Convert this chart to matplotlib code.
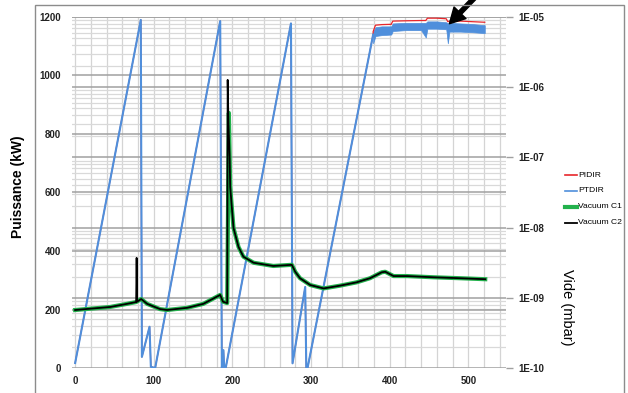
import matplotlib.pyplot as plt
import matplotlib.patches as patches
from matplotlib.lines import Line2D
import numpy as np

plt.rcParams['font.family'] = ['Liberation Sans', 'DejaVu Sans']

# puissance (kW) - rampes
t_pow = [0, 83.5, 84.9, 94.6, 96.3, 101.8, 184.5, 186.6, 188.6, 189.6, 191.5,
         274.5, 276.5, 292.6, 294, 295.6, 375, 379]
ptdir = [17, 1190, 38, 141, 4, 0, 1186, 0, 61, 0, 0,
         1178, 16, 277, 0, 0, 1084, 1140]

# plateau (bande bruitee PTDIR, PIDIR au dessus)
t_plat = [379, 382, 390, 402, 404, 420, 440, 446, 448, 460, 472, 474, 476, 490, 505, 521]
ptdir_lo = [1110, 1135, 1138, 1140, 1152, 1155, 1155, 1130, 1160, 1160, 1158, 1110, 1150, 1150, 1148, 1145]
ptdir_hi = [1150, 1165, 1168, 1168, 1178, 1180, 1180, 1180, 1185, 1185, 1182, 1178, 1180, 1178, 1176, 1172]
pidir_plat = [1150, 1172, 1174, 1175, 1186, 1187, 1188, 1188, 1196, 1196, 1194, 1184, 1186, 1186, 1184, 1182]

# vide (mbar)
t_vac1 = [0, 44.5, 66, 77.6, 84, 91.6, 108, 117, 142.5, 163, 184.5, 188, 193.4,
          195.5, 197.2, 201.4, 207.8, 214, 226.9, 252, 271.4, 275.6, 280, 286,
          299, 316, 337, 358, 375, 390, 394.4, 405, 422, 456, 490, 521.6]
vac1 = [6.7e-10, 7.4e-10, 8.2e-10, 8.7e-10, 9.6e-10, 8.2e-10, 6.9e-10, 6.7e-10,
        7.2e-10, 8.2e-10, 1.1e-9, 8.8e-10, 8.4e-10,
        4.3e-7, 3.8e-8, 9.9e-9, 5.3e-9, 3.85e-9, 3.16e-9, 2.84e-9, 2.93e-9, 2.95e-9,
        2.34e-9, 1.9e-9, 1.52e-9, 1.36e-9, 1.49e-9, 1.66e-9, 1.9e-9, 2.31e-9,
        2.35e-9, 2.04e-9, 2.04e-9, 1.96e-9, 1.9e-9, 1.84e-9]
t_vac2 = [0, 44.5, 66, 77.6, 78.2, 78.8, 84, 91.6, 108, 117, 142.5, 163, 184.5,
          188, 193.4, 194, 195, 196.5, 197.2, 201.4, 207.8, 214, 226.9, 252, 271.4,
          275.6, 280, 286, 299, 316, 337, 358, 375, 390, 394.4, 405, 422, 456, 490, 521.6]
vac2 = [6.7e-10, 7.4e-10, 8.2e-10, 8.7e-10, 3.7e-9, 8.8e-10, 9.6e-10, 8.2e-10,
        6.9e-10, 6.7e-10, 7.2e-10, 8.2e-10, 1.1e-9, 8.8e-10, 8.4e-10,
        1.27e-6, 3.0e-7, 1.0e-7, 3.8e-8, 9.9e-9, 5.3e-9, 3.85e-9, 3.16e-9, 2.84e-9,
        2.93e-9, 2.95e-9, 2.34e-9, 1.9e-9, 1.52e-9, 1.36e-9, 1.49e-9, 1.66e-9,
        1.9e-9, 2.31e-9, 2.35e-9, 2.04e-9, 2.04e-9, 1.96e-9, 1.9e-9, 1.84e-9]

c_red = '#e8262b'
c_blue = '#4f8fdc'
c_green = '#22b14c'

fig = plt.figure(figsize=(6.28, 3.93), dpi=100)
ax = fig.add_axes([72 / 628, 25 / 393, 434 / 628, 351 / 393])
ax2 = ax.twinx()

# cadre exterieur
fig.add_artist(patches.Rectangle((35 / 628, -0.05), 589 / 628, 1 - 5 / 393 + 0.05,
                                 transform=fig.transFigure, fill=False,
                                 edgecolor='#8c8c8c', lw=1, clip_on=False))

ax.set_xlim(-4, 548)
ax.set_ylim(0, 1200)
ax2.set_yscale('log')
ax2.set_ylim(1e-10, 1e-5)

# grille
for x in range(0, 541, 20):
    ax.axvline(x, color='#d4d4d4', lw=0.9, zorder=0)
for dec in range(-10, -5):
    for k in range(2, 10):
        yv = 1200 * (np.log10(k * 10.0 ** dec) + 10) / 5
        ax.axhline(yv, color='#d9d9d9', lw=0.9, zorder=0)
    ax.axhline(1200 * (dec + 10 + 1) / 5, color='#a0a0a0', lw=1.1, zorder=0)
for yv in range(0, 1201, 200):
    ax.axhline(yv, color='#a0a0a0', lw=1.1, zorder=0)

ax.plot(t_pow + t_plat, ptdir + pidir_plat, color=c_red, lw=0.9, label='PIDIR')
ax.plot(t_pow, ptdir, color=c_blue, lw=1.5, label='PTDIR')
ax.fill_between(t_plat, ptdir_lo, ptdir_hi, color=c_blue, lw=0.5)

ax2.plot(t_vac1, vac1, color=c_green, lw=3, label='Vacuum C1')
ax2.plot(t_vac2, vac2, color='black', lw=1.3, label='Vacuum C2')

for s in list(ax.spines.values()) + list(ax2.spines.values()):
    s.set_visible(False)

ax.set_xticks(range(0, 501, 100))
ax.set_yticks(range(0, 1201, 200))
ax.tick_params(axis='both', length=0, labelsize=7, colors='#222222', pad=6)
ax.tick_params(axis='y', pad=8)
for lab in ax.get_xticklabels() + ax.get_yticklabels():
    lab.set_fontweight('bold')

dec_ticks = [1e-10, 1e-9, 1e-8, 1e-7, 1e-6, 1e-5]
ax2.set_yticks(dec_ticks)
ax2.set_yticklabels(['1E-10', '1E-09', '1E-08', '1E-07', '1E-06', '1E-05'],
                    fontweight='bold')
ax2.yaxis.set_minor_locator(plt.NullLocator())
ax2.tick_params(axis='y', length=5, width=1, color='#a0a0a0', labelsize=7,
                labelcolor='#222222', pad=4)

fig.text(18.5 / 628, 1 - 186.5 / 393, 'Puissance (kW)', rotation=90, ha='center',
         va='center', fontsize=10, fontweight='bold')
fig.text(567 / 628, 1 - 307 / 393, 'Vide (mbar)', rotation=-90, ha='center',
         va='center', fontsize=10.5)

# legende
leg = [('PIDIR', c_red, 1.2, 175), ('PTDIR', c_blue, 1.2, 191),
       ('Vacuum C1', c_green, 3, 207), ('Vacuum C2', 'black', 1.3, 223)]
for name, col, lw, yp in leg:
    yf = 1 - yp / 393
    fig.add_artist(Line2D([565 / 628, 577 / 628], [yf, yf], color=col, lw=lw,
                          transform=fig.transFigure))
    fig.text(578 / 628, yf, name, fontsize=6.1, va='center', ha='left')

# fleche
ax.annotate('', xy=(476, 1177), xytext=(515, 1285), annotation_clip=False,
            arrowprops=dict(facecolor='black', edgecolor='black', width=3,
                            headwidth=12, headlength=11, shrink=0))

fig.savefig('out.png', dpi=100)
